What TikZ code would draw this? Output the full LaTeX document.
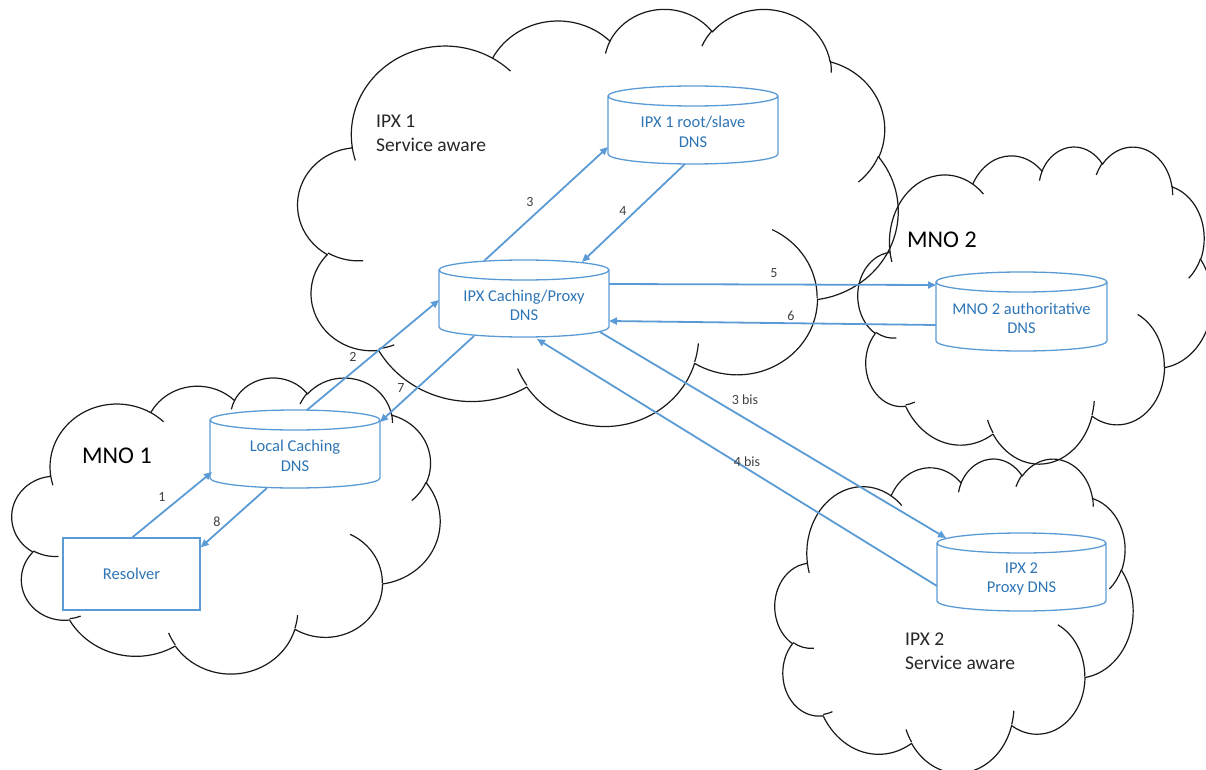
\documentclass[tikz,border=0pt]{standalone}
\usepackage{fontspec}
\setmainfont{Carlito}
\usetikzlibrary{arrows.meta,calc}
\definecolor{lineblue}{HTML}{5B9BD5}
\definecolor{textblue}{HTML}{2E75B6}
\definecolor{numgray}{HTML}{404040}

% arc in OOXML style: visual start angle, visual sweep
\newcommand\varc[4]{%
  \pgfextra{%
    \pgfmathsetmacro\vaA{atan2(sin(#3)*#1, cos(#3)*#2)}%
    \pgfmathsetmacro\vaB{atan2(sin(#3+#4)*#1, cos(#3+#4)*#2)}%
    \pgfmathsetmacro\vaD{mod(\vaB-(\vaA)+720,360)}%
  }%
  arc[start angle=\vaA, delta angle=\vaD, x radius=#1, y radius=#2]%
}

\newcommand\pptcloud[4]{% L T W H
  \begin{scope}[shift={(#1,#2)}, xscale=#3/432, yscale=#4/432]
    \draw[cloudline] (39.00,143.70)
      \varc{67.53}{91.90}{-190.4875}{123.7805}
      \varc{53.33}{72.67}{-144.1024}{89.9452}
      \varc{43.65}{59.45}{-145.8079}{99.7230}
      \varc{48.57}{65.95}{-130.9861}{117.2417}
      \varc{53.33}{72.73}{-78.7089}{109.0269}
      \varc{67.75}{92.20}{-46.2673}{130.2690}
      \varc{57.85}{78.67}{0.6250}{114.0333}
      \varc{67.52}{92.15}{22.4516}{115.1726}
      \varc{77.20}{105.43}{66.2426}{75.7110}
      \varc{43.60}{59.18}{-274.9421}{146.7356}
      \varc{43.45}{59.45}{-246.8285}{152.5189}
      -- cycle;
    \draw[cloudline]
      (46.93,261.77) \varc{43.45}{59.45}{86.7420}{26.4295}
      (69.28,348.99) \varc{43.60}{59.18}{73.6105}{11.4475}
      (164.78,390.90) \varc{67.52}{92.15}{137.6242}{14.0811}
      (288.27,347.51) \varc{67.52}{92.15}{6.4533}{15.9984}
      (341.29,229.54) \varc{57.85}{78.67}{-70.2924}{70.9174}
      (417.98,153.54) \varc{53.33}{72.73}{30.3180}{27.7515}
      (383.24,54.26) \varc{48.57}{65.95}{-13.7443}{14.8589}
      (290.78,39.52) \varc{48.57}{65.95}{-149.1815}{18.1954}
      (221.41,47.20) \varc{43.65}{59.45}{-163.4943}{17.6864}
      (140.00,51.92) \varc{67.53}{91.90}{-66.7070}{12.3194}
      (41.27,157.89) \varc{67.53}{91.90}{157.6544}{11.8582};
  \end{scope}}

\newcommand\dnscyl[6]{% name L T W H text
  \node[cylbox, minimum width=#4, minimum height=#5] (#1) at ({#2+#4/2},{#3+#5/2}) {};
  \draw[cylline] ($(#1.north west)+(0,10)$) -- ($(#1.south west)+(0,-10)$)
    arc[start angle=180, end angle=0, x radius=#4/2, y radius=10]
    -- ($(#1.north east)+(0,10)$)
    arc[start angle=0, end angle=-180, x radius=#4/2, y radius=10]
    arc[start angle=180, end angle=0, x radius=#4/2, y radius=10];
  \node[cyltext] (#1-t) at ($(#1.center)+(0,7)$) {#6};
}

\tikzset{
  cloudline/.style={draw=black!90, line width=1.2pt, line join=round},
  cylbox/.style={rectangle, inner sep=0pt, outer sep=0pt, draw=none},
  cylline/.style={draw=lineblue, line width=1.3pt},
  cyltext/.style={text=textblue, align=center, inner sep=0pt, font=\fontsize{16.5}{19.5}\selectfont},
  flow/.style={draw=lineblue, line width=1.8pt, -{Triangle[length=8pt,width=7pt]}},
  num/.style={text=numgray, inner sep=0pt, font=\fontsize{14}{17}\selectfont},
  lbl/.style={text=black!85, inner sep=0pt, anchor=base west, font=\fontsize{19.5}{23.5}\selectfont},
  biglbl/.style={text=black, inner sep=0pt, anchor=base west, font=\fontsize{24}{29}\selectfont},
}

\begin{document}
\begin{tikzpicture}[x=1pt, y=1pt, yscale=-1]
  \useasboundingbox (0,0) rectangle (1206,770);

  % clouds
  \pptcloud{298}{8}{600}{417}
  \pptcloud{858}{146}{354}{317}
  \pptcloud{12}{377}{428}{296}
  \pptcloud{775}{458}{358}{314}

  % cloud labels
  \node[lbl] (ipx1a) at (376,128) {IPX 1};
  \node[lbl] (ipx1b) at (376,152) {Service aware};
  \node[lbl] (ipx2a) at (905,645) {IPX 2};
  \node[lbl] (ipx2b) at (905,669) {Service aware};
  \node[biglbl] (mno1) at (82,463) {MNO 1};
  \node[biglbl] (mno2) at (907,247) {MNO 2};

  % DNS servers
  \dnscyl{proxy}{439}{260}{170}{77}{IPX Caching/Proxy\\DNS}
  \dnscyl{root}{608}{86}{170}{78}{IPX 1 root/slave\\DNS}
  \dnscyl{auth}{936}{272}{171}{79}{MNO 2 authoritative\\DNS}
  \dnscyl{local}{210}{410}{170}{78}{Local Caching\\DNS}
  \dnscyl{ipxtwo}{937}{533}{169}{78}{IPX 2\\Proxy DNS}

  \node[rectangle, draw=lineblue, line width=1.3pt, minimum width=137, minimum height=72,
        text=textblue, font=\fontsize{16.5}{19.5}\selectfont, inner sep=0pt] (resolver) at (131.5,574) {Resolver};

  % flows
  \draw[flow] ($(resolver.north west)+(70,0)$) -- ($(local.north west)+(2,62)$);
  \draw[flow] ($(local.north west)+(57,78)$) -- ($(resolver.north east)+(0,10)$);
  \draw[flow] ($(local.north west)+(97,0)$) -- ($(proxy.north west)+(0,40)$);
  \draw[flow] ($(proxy.north west)+(35,76)$) -- ($(local.north east)+(0,12)$);
  \draw[flow] ($(proxy.north west)+(45,1)$) -- ($(root.north west)+(0,61)$);
  \draw[flow] ($(root.north west)+(77,78)$) -- ($(proxy.north west)+(143,2)$);
  \draw[flow] ($(proxy.north east)+(0,24)$) -- ($(auth.north west)+(0,13)$);
  \draw[flow] ($(auth.north west)+(0,53)$) -- ($(proxy.north east)+(0,61)$);
  \draw[flow] ($(proxy.south east)+(-9,-5)$) -- ($(ipxtwo.north west)+(9,5)$);
  \draw[flow] ($(ipxtwo.north west)+(0,53)$) -- ($(proxy.north west)+(98,79)$);

  % step numbers
  \node[num] (n1) at (162,497) {1};
  \node[num] (n8) at (217,522) {8};
  \node[num] (n2) at (353,357) {2};
  \node[num] (n7) at (401,388) {7};
  \node[num] (n3) at (530,202) {3};
  \node[num] (n4) at (623,211) {4};
  \node[num] (n5) at (774,273) {5};
  \node[num] (n6) at (791,316) {6};
  \node[num] (n3b) at (745,400) {3 bis};
  \node[num] (n4b) at (747,462) {4 bis};
\end{tikzpicture}
\end{document}
